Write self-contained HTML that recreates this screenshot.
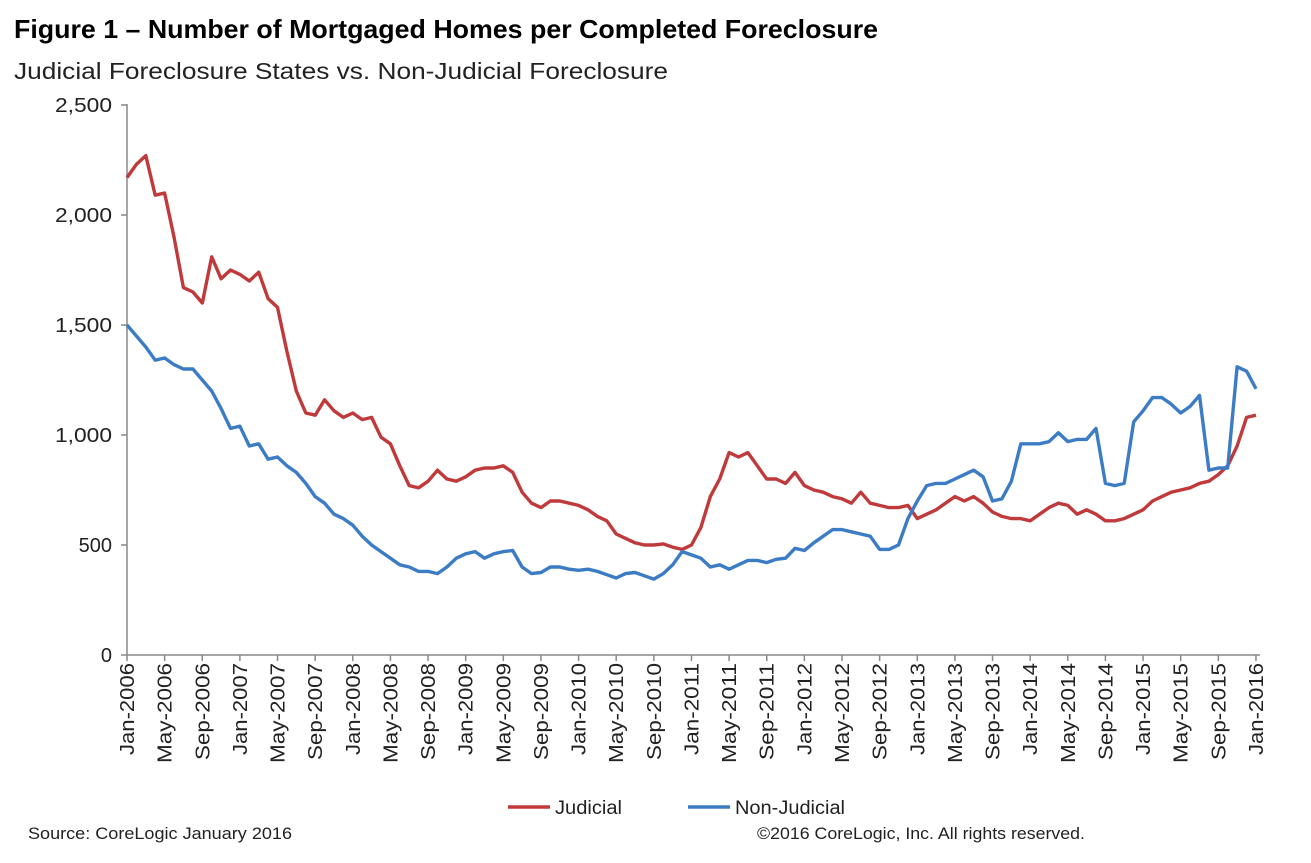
<!DOCTYPE html>
<html><head><meta charset="utf-8"><style>
body{margin:0;background:#fff;}
svg{display:block;font-family:"Liberation Sans",Arial,sans-serif;}
</style></head><body>
<svg id="s" width="1311" height="863" xmlns="http://www.w3.org/2000/svg">
<text x="14" y="38" font-size="26" font-weight="bold" fill="#000" textLength="864" lengthAdjust="spacingAndGlyphs">Figure 1 – Number of Mortgaged Homes per Completed Foreclosure</text>
<text x="14" y="79" font-size="23" fill="#222" textLength="654" lengthAdjust="spacingAndGlyphs">Judicial Foreclosure States vs. Non-Judicial Foreclosure</text>
<g font-size="20" fill="#222" text-anchor="end">
<text x="112" y="112" textLength="57" lengthAdjust="spacingAndGlyphs">2,500</text>
<text x="112" y="222" textLength="57" lengthAdjust="spacingAndGlyphs">2,000</text>
<text x="112" y="332" textLength="57" lengthAdjust="spacingAndGlyphs">1,500</text>
<text x="112" y="442" textLength="57" lengthAdjust="spacingAndGlyphs">1,000</text>
<text x="112" y="552">500</text>
<text x="112" y="662">0</text>
</g>
<g stroke="#888" stroke-width="1.5">
<line x1="127" y1="104" x2="127" y2="655"/>
<line x1="127" y1="655" x2="1260" y2="655"/>
<line x1="121" y1="105" x2="127" y2="105"/><line x1="121" y1="215" x2="127" y2="215"/>
<line x1="121" y1="325" x2="127" y2="325"/><line x1="121" y1="435" x2="127" y2="435"/>
<line x1="121" y1="545" x2="127" y2="545"/><line x1="121" y1="655" x2="127" y2="655"/>
</g>
<g id="ticks" stroke="#888" stroke-width="1.5"></g>
<g id="labels" font-size="20" fill="#222" text-anchor="end"></g>
<polyline id="red" fill="none" stroke="#c0393b" stroke-width="3.4" stroke-linejoin="round"/>
<polyline id="blue" fill="none" stroke="#3b7cc4" stroke-width="3.4" stroke-linejoin="round"/>
<line x1="508" y1="807" x2="550" y2="807" stroke="#c0393b" stroke-width="3.4"/>
<text x="555" y="814" font-size="19" fill="#222" textLength="67" lengthAdjust="spacingAndGlyphs">Judicial</text>
<line x1="688" y1="807" x2="730" y2="807" stroke="#3b7cc4" stroke-width="3.4"/>
<text x="735" y="814" font-size="19" fill="#222" textLength="110" lengthAdjust="spacingAndGlyphs">Non-Judicial</text>
<text x="28" y="839" font-size="17" fill="#222" textLength="264" lengthAdjust="spacingAndGlyphs">Source: CoreLogic  January 2016</text>
<text x="757" y="839" font-size="17" fill="#222" textLength="328" lengthAdjust="spacingAndGlyphs">©2016 CoreLogic, Inc. All rights reserved.</text>
</svg>
<script>
var R=[2170,2230,2270,2090,2100,1900,1670,1650,1600,1810,1710,1750,1730,1700,1740,1620,1580,1380,1200,1100,1090,1160,1110,1080,1100,1070,1080,990,960,860,770,760,790,840,800,790,810,840,850,850,860,830,740,690,670,700,700,690,680,660,630,610,550,530,510,500,500,505,490,480,500,580,720,800,920,900,920,860,800,800,780,830,770,750,740,720,710,690,740,690,680,670,670,680,620,640,660,690,720,700,720,690,650,630,620,620,610,640,670,690,680,640,660,640,610,610,620,640,660,700,720,740,750,760,780,790,820,860,950,1080,1090];
var B=[1500,1450,1400,1340,1350,1320,1300,1300,1250,1200,1120,1030,1040,950,960,890,900,860,830,780,720,690,640,620,590,540,500,470,440,410,400,380,380,370,400,440,460,470,440,460,470,475,400,370,375,400,400,390,385,390,380,365,350,370,375,360,345,370,410,470,455,440,400,410,390,410,430,430,420,435,440,485,475,510,540,570,570,560,550,540,480,480,500,620,700,770,780,780,800,820,840,810,700,710,790,960,960,960,970,1010,970,980,980,1030,780,770,780,1060,1110,1170,1170,1140,1100,1130,1180,840,850,850,1310,1290,1210];
function pts(a){return a.map(function(v,i){return (127+i*9.408).toFixed(1)+","+(655-v*0.22).toFixed(1)}).join(" ")}
document.getElementById("red").setAttribute("points",pts(R));
document.getElementById("blue").setAttribute("points",pts(B));
var g=document.getElementById("ticks"),h="";
for(var i=0;i<=120;i+=4){var x=127+i*9.408;h+='<line x1="'+x+'" y1="655" x2="'+x+'" y2="661"/>';}
g.innerHTML=h;
var L=["Jan-2006","May-2006","Sep-2006","Jan-2007","May-2007","Sep-2007","Jan-2008","May-2008","Sep-2008","Jan-2009","May-2009","Sep-2009","Jan-2010","May-2010","Sep-2010","Jan-2011","May-2011","Sep-2011","Jan-2012","May-2012","Sep-2012","Jan-2013","May-2013","Sep-2013","Jan-2014","May-2014","Sep-2014","Jan-2015","May-2015","Sep-2015","Jan-2016"];
var lh="";
L.forEach(function(t,k){var x=127+k*4*9.408+7;var w=t[0]=="M"?100:(t[0]=="S"?97:92);
lh+='<text transform="translate('+x.toFixed(1)+',663) rotate(-90)" textLength="'+w+'" lengthAdjust="spacingAndGlyphs">'+t+'</text>';});
document.getElementById("labels").innerHTML=lh;
</script>
</body></html>
